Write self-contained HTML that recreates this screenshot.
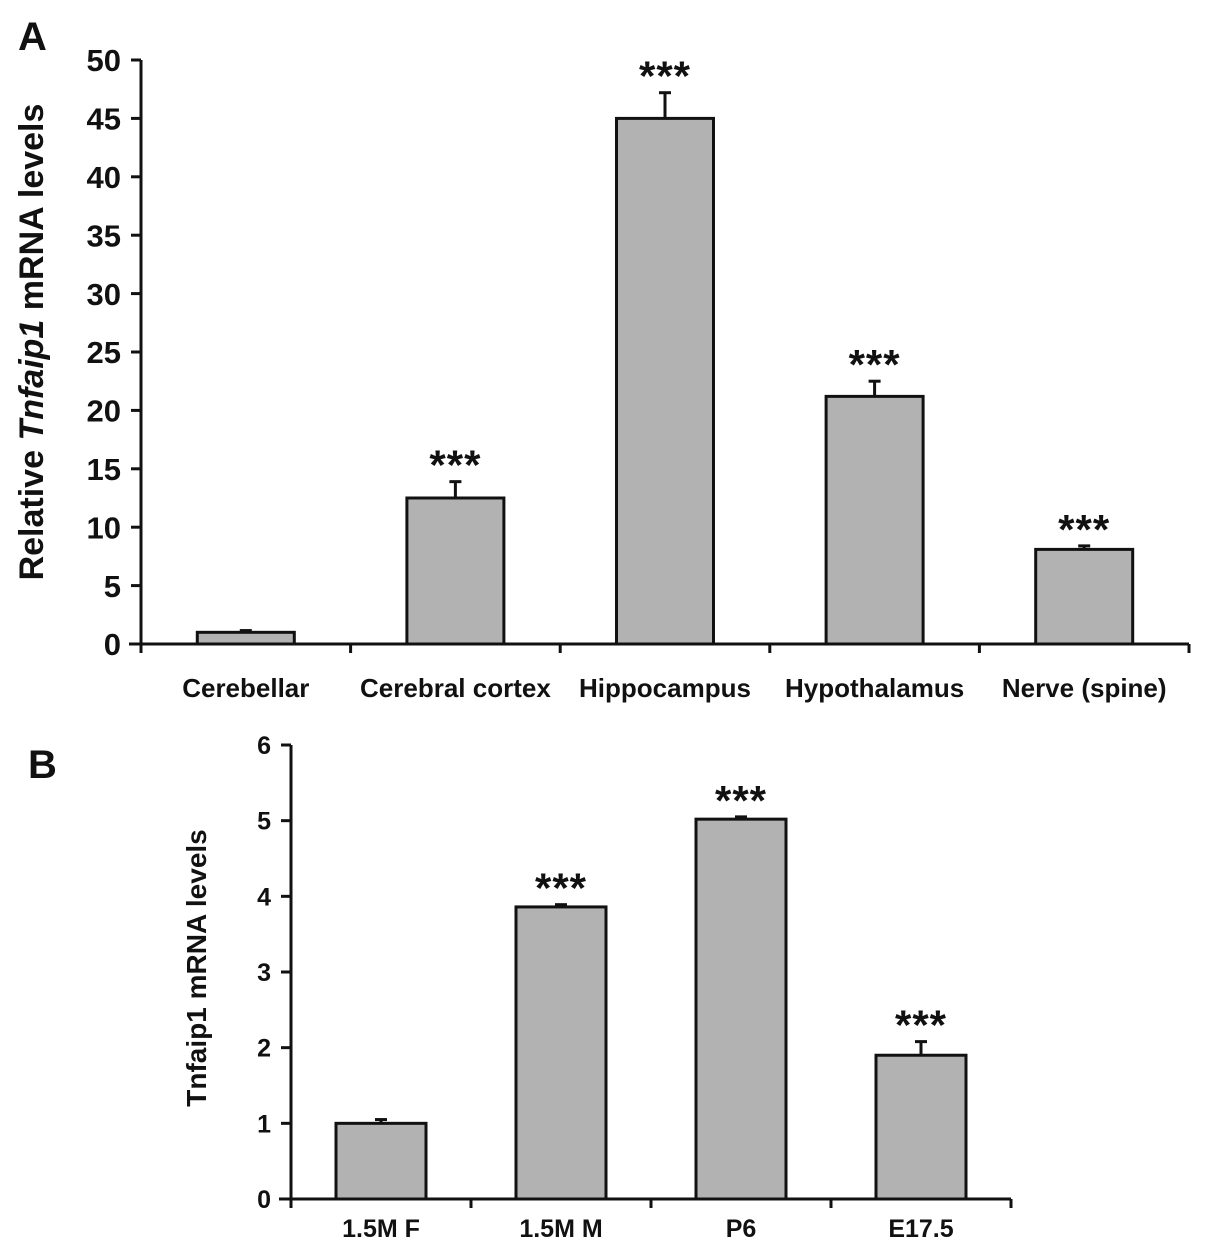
<!DOCTYPE html>
<html><head><meta charset="utf-8"><style>
body{margin:0;background:#fff}
svg text{font-family:"Liberation Sans",Arial,sans-serif;font-weight:bold;fill:#111}
</style></head><body>
<svg id="chart" width="1205" height="1251" viewBox="0 0 1205 1251" xmlns="http://www.w3.org/2000/svg">
<text x="18" y="50" font-size="40">A</text>
<text x="28" y="778" font-size="40">B</text>
<text transform="translate(43,342) rotate(-90)" text-anchor="middle" font-size="34">Relative <tspan font-style="italic">Tnfaip1</tspan> mRNA levels</text>
<text transform="translate(206,968) rotate(-90)" text-anchor="middle" font-size="28">Tnfaip1 mRNA levels</text>
<g id="ga"></g><g id="gb"></g>
</svg>
<script>
const catsA=["Cerebellar","Cerebral cortex","Hippocampus","Hypothalamus","Nerve (spine)"];
const valsA=[1.0,12.5,45.0,21.2,8.1];
const errA=[0.15,1.4,2.2,1.3,0.3];
const sigA=["","***","***","***","***"];
const ticksA=[0,5,10,15,20,25,30,35,40,45,50];
const catsB=["1.5M F","1.5M M","P6","E17.5"];
const valsB=[1.0,3.86,5.02,1.9];
const errB=[0.05,0.03,0.03,0.18];
const sigB=["","***","***","***"];
const ticksB=[0,1,2,3,4,5,6];
const NS="http://www.w3.org/2000/svg";
function mk(g,t,a,txt){const e=document.createElementNS(NS,t);for(const k in a)e.setAttribute(k,a[k]);if(txt!==undefined)e.textContent=txt;g.appendChild(e);return e;}
function draw(g,cfg){
  const {x0,x1,y0,y1,max,cats,vals,errs,sigs,ticks,barW,tickFs,catFs,catY,starFs,pfx}=cfg;
  const y=v=>y0-(v/max)*(y0-y1);
  const bw=(x1-x0)/cats.length;
  const x=i=>x0+bw*(i+0.5);
  let e;
  e=mk(g,'line',{x1:x0,y1:y1,x2:x0,y2:y0+1,stroke:'#111','stroke-width':3});
  
  
  e=mk(g,'line',{x1:x0-12,y1:y0,x2:x1,y2:y0,stroke:'#111','stroke-width':3});
  
  
  ticks.forEach(t=>{
    e=mk(g,'line',{x1:x0-10,y1:y(t),x2:x0,y2:y(t),stroke:'#111','stroke-width':3});
    
    
    e=mk(g,'text',{x:x0-20,y:y(t)+tickFs*0.36,'text-anchor':'end','font-size':tickFs},String(t));
    
    
  });
  for(let i=0;i<=cats.length;i++){
    e=mk(g,'line',{x1:x0+bw*i,y1:y0,x2:x0+bw*i,y2:y0+9,stroke:'#111','stroke-width':3});
    
    
  }
  cats.forEach((c,i)=>{
    const v=vals[i],top=y(v),etop=y(v+errs[i]);
    e=mk(g,'line',{x1:x(i),y1:top,x2:x(i),y2:etop,stroke:'#111','stroke-width':3});
    
    
    e=mk(g,'line',{x1:x(i)-6,y1:etop,x2:x(i)+6,y2:etop,stroke:'#111','stroke-width':3});
    
    
    e=mk(g,'rect',{x:x(i)-barW/2,y:top,width:barW,height:y0-top,fill:'#b2b2b2',stroke:'#111','stroke-width':3});
    
    
    if(sigs[i]){
      e=mk(g,'text',{x:x(i),y:etop-2,'text-anchor':'middle','font-size':starFs,'font-weight':'normal','letter-spacing':'1'},sigs[i]);
      
      
    }
    e=mk(g,'text',{x:x(i),y:catY,'text-anchor':'middle','font-size':catFs},c);
    
    
  });
}
draw(document.getElementById('ga'),{x0:141,x1:1189,y0:644,y1:60,max:50,cats:catsA,vals:valsA,errs:errA,sigs:sigA,ticks:ticksA,barW:97,tickFs:31,catFs:26,catY:697,starFs:42,pfx:'a'});
draw(document.getElementById('gb'),{x0:291,x1:1011,y0:1199,y1:745,max:6,cats:catsB,vals:valsB,errs:errB,sigs:sigB,ticks:ticksB,barW:90,tickFs:25,catFs:25,catY:1237,starFs:42,pfx:'b'});
</script>
</body></html>
